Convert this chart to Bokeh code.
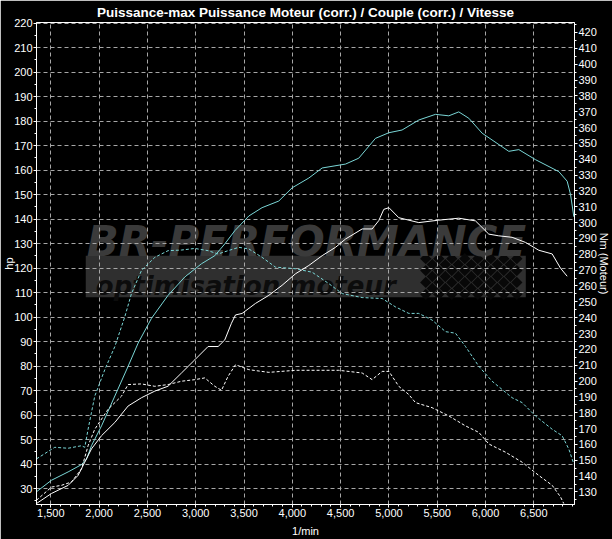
from bokeh.plotting import figure
from bokeh.models import Range1d, LinearAxis, SingleIntervalTicker, NumeralTickFormatter
from bokeh.core.properties import value
from bokeh.embed import file_html
from bokeh.resources import INLINE

# ---------------- data ----------------
# Power, tuned (hp, cyan solid)
pw_tuned_rpm = [1352, 1507, 1679, 1818, 1870, 1921, 2025, 2163, 2300, 2404, 2542, 2714, 2887, 3060,
                3198, 3301, 3405, 3550, 3687, 3860, 3998, 4171, 4309, 4551, 4688, 4861, 5000, 5136,
                5310, 5482, 5620, 5723, 5827, 5965, 6241, 6345, 6517, 6759, 6845, 6880, 6914]
pw_tuned_hp = [28.7, 33.4, 36.8, 39.8, 42.1, 47.5, 55.6, 67.8, 79.9, 89.4, 99.5, 108.9, 116.4, 121.8,
               125.1, 129.9, 135.3, 141.3, 144.7, 147.4, 152.8, 156.8, 160.9, 162.5, 164.9, 173.0, 175.3, 176.4,
               180.5, 182.8, 182.2, 183.8, 181.2, 175.1, 167.7, 168.4, 164.3, 159.4, 155.5, 150.1, 141.0]

# Torque, tuned (Nm, cyan dashed)
tq_tuned_rpm = [1352, 1541, 1679, 1818, 1852, 1886, 1955, 2059, 2163, 2266, 2335, 2439, 2577, 2714,
                2853, 2991, 3128, 3232, 3335, 3446, 3550, 3687, 3826, 4033, 4205, 4378, 4516, 4723,
                4930, 5068, 5206, 5309, 5447, 5586, 5689, 5793, 5931, 6068, 6275, 6379, 6517, 6690,
                6793, 6862, 6914]
tq_tuned_nm = [150.9, 158.2, 157.6, 159.2, 158.2, 169.6, 190.5, 207.2, 221.8, 240.6, 255.2, 269.8, 278.1, 282.3,
               282.7, 283.7, 282.3, 280.2, 282.3, 284.4, 283.4, 278.1, 271.9, 270.9, 268.7, 261.5, 255.2, 252.7,
               252.1, 246.8, 242.7, 242.7, 238.5, 231.2, 230.2, 221.8, 209.3, 199.9, 189.5, 186.4, 178.0, 169.6,
               165.5, 157.1, 147.7]

# Power, stock (hp, white solid)
pw_stock_rpm = [1352, 1507, 1679, 1783, 1852, 1921, 2025, 2163, 2300, 2439, 2577, 2714, 2853, 2991,
                3128, 3232, 3301, 3370, 3412, 3480, 3619, 3757, 3894, 4033, 4171, 4309, 4447, 4551,
                4723, 4826, 4895, 4947, 5000, 5102, 5309, 5516, 5723, 5896, 6034, 6137, 6275, 6414,
                6552, 6690, 6776, 6845]
pw_stock_hp = [23.9, 28.0, 31.3, 35.4, 40.8, 46.2, 51.6, 57.0, 63.7, 67.1, 69.8, 71.8, 77.2, 82.6,
               88.0, 88.0, 90.7, 97.5, 100.9, 101.5, 105.6, 108.9, 113.0, 117.7, 121.1, 125.1, 128.5, 131.9,
               136.0, 136.0, 139.4, 144.0, 144.7, 140.6, 138.6, 139.6, 140.4, 139.3, 133.9, 133.2, 132.6, 130.5,
               127.3, 125.8, 120.0, 116.7]

# Torque, stock (Nm, white dashed)
tq_stock_rpm = [1352, 1507, 1610, 1714, 1818, 1886, 1955, 2093, 2232, 2300, 2439, 2577, 2714, 2853,
                2991, 3094, 3198, 3267, 3335, 3412, 3550, 3757, 4033, 4240, 4481, 4723, 4826, 4930,
                5000, 5102, 5206, 5275, 5447, 5620, 5793, 5931, 6034, 6207, 6379, 6552, 6690, 6776, 6810]
tq_stock_nm = [124.8, 133.1, 134.2, 136.3, 144.6, 159.2, 169.6, 182.2, 190.5, 197.8, 198.2, 196.7, 197.8, 199.9,
               200.9, 202.0, 196.7, 194.2, 203.0, 210.3, 207.2, 205.5, 206.8, 206.8, 206.8, 205.1, 200.9, 206.1,
               206.1, 196.7, 191.5, 186.4, 183.2, 178.0, 171.7, 167.6, 160.3, 155.1, 148.8, 140.4, 134.2, 126.9, 122.7]

title_text = "Puissance-max Puissance Moteur (corr.) / Couple (corr.) / Vitesse"
x_label = "1/min"
y_label = "hp"
y2_label = "Nm (Moteur)"
watermark_1 = "BR-PERFORMANCE"
watermark_2 = "optimisation moteur"

# ---------------- figure ----------------
X0, X1 = 1352, 6921
Y0, Y1 = 23.5, 220.3
N0, N1 = 122.1, 426.3

FONT = "Liberation Sans"
CYAN = "#7ad6d6"
GRID = "#a6a6a6"

p = figure(width=612, height=539, x_range=Range1d(X0, X1), y_range=Range1d(Y0, Y1),
           output_backend="svg", toolbar_location=None,
           background_fill_color="black", border_fill_color="black",
           min_border_left=0, min_border_right=0, min_border_top=0, min_border_bottom=0)
p.extra_y_ranges = {"nm": Range1d(N0, N1)}
p.outline_line_color = "white"
p.outline_line_width = 1

p.title.text = title_text
p.title.align = "center"
p.title.text_color = "white"
p.title.text_font = FONT
p.title.text_font_size = "13.5px"
p.title.text_font_style = "bold"
p.title.standoff = 5
p.title.offset = 0

# axes
p.xaxis.ticker = SingleIntervalTicker(interval=500, num_minor_ticks=5)
p.xaxis.formatter = NumeralTickFormatter(format="0,0")
p.xaxis.axis_label = x_label
p.yaxis.ticker = SingleIntervalTicker(interval=10, num_minor_ticks=2)
p.yaxis.axis_label = y_label

ax2 = LinearAxis(y_range_name="nm", axis_label=y2_label,
                 ticker=SingleIntervalTicker(interval=10, num_minor_ticks=2))
p.add_layout(ax2, "right")

for ax in [p.xaxis[0], p.yaxis[0], ax2]:
    ax.axis_line_color = "white"
    ax.major_tick_line_color = "white"
    ax.minor_tick_line_color = "white"
    ax.major_tick_in = 0
    ax.major_tick_out = 3
    ax.minor_tick_in = 0
    ax.minor_tick_out = 2
    ax.major_label_text_color = "white"
    ax.major_label_text_font = FONT
    ax.major_label_text_font_size = "11px"
    ax.major_label_standoff = 1
    ax.axis_label_text_color = "white"
    ax.axis_label_text_font = FONT
    ax.axis_label_text_font_size = "11px"
    ax.axis_label_text_font_style = "normal"

p.yaxis[0].axis_label_standoff = -4
ax2.axis_label_standoff = -2
p.xaxis[0].axis_label_standoff = 5

# grid
p.xgrid.grid_line_color = GRID
p.xgrid.grid_line_dash = "4 3"
p.ygrid.grid_line_color = GRID
p.ygrid.grid_line_dash = "4 3"

# ---------------- watermark (decoration, drawn behind the grid) ----------------
PX_PER_RPM = 0.0966
PX_PER_HP = 2.47

def dx(px):
    return px / PX_PER_RPM

def dy(px):
    return px / PX_PER_HP

wm_left = 1862
wm_band_top = 125.1
p.quad(left=[wm_left], right=[wm_left + dx(440)], top=[wm_band_top], bottom=[wm_band_top - dy(42)],
       fill_color="#2f2f2f", line_color=None, level="image")

# checkered flag on the right of the band
cx, cy = [], []
for r in range(7):
    for c in range(8):
        xpx = 340 + 13 * c + 6.5 * (r % 2)
        if xpx > 434:
            continue
        cx.append(wm_left + dx(xpx))
        cy.append(wm_band_top - dy(3 + 6 * r))
p.scatter(cx, cy, marker="square", size=8, angle=0.785, fill_color="#080808",
          line_color=None, level="image")

p.text(x=[wm_left + dx(1)], y=[wm_band_top + dy(14)], text=[watermark_1],
       text_font=value("DejaVu Sans"), text_font_style="bold italic", text_font_size="42px",
       text_color="#3a3a3a", text_baseline="alphabetic", level="image")
p.text(x=[wm_left + dx(10)], y=[wm_band_top - dy(31)], text=[watermark_2],
       text_font=value("DejaVu Sans"), text_font_style="bold italic", text_font_size="26px",
       text_color="#0c0c0c", text_baseline="alphabetic", level="image")

# ---------------- curves ----------------
p.line(pw_tuned_rpm, pw_tuned_hp, line_color=CYAN, line_width=1)
p.line(tq_tuned_rpm, tq_tuned_nm, line_color=CYAN, line_width=1, line_dash="3 2", y_range_name="nm")
p.line(pw_stock_rpm, pw_stock_hp, line_color="white", line_width=1)
p.line(tq_stock_rpm, tq_stock_nm, line_color="white", line_width=1, line_dash="3 2", y_range_name="nm")

open("out.html", "w").write(file_html(p, INLINE))
